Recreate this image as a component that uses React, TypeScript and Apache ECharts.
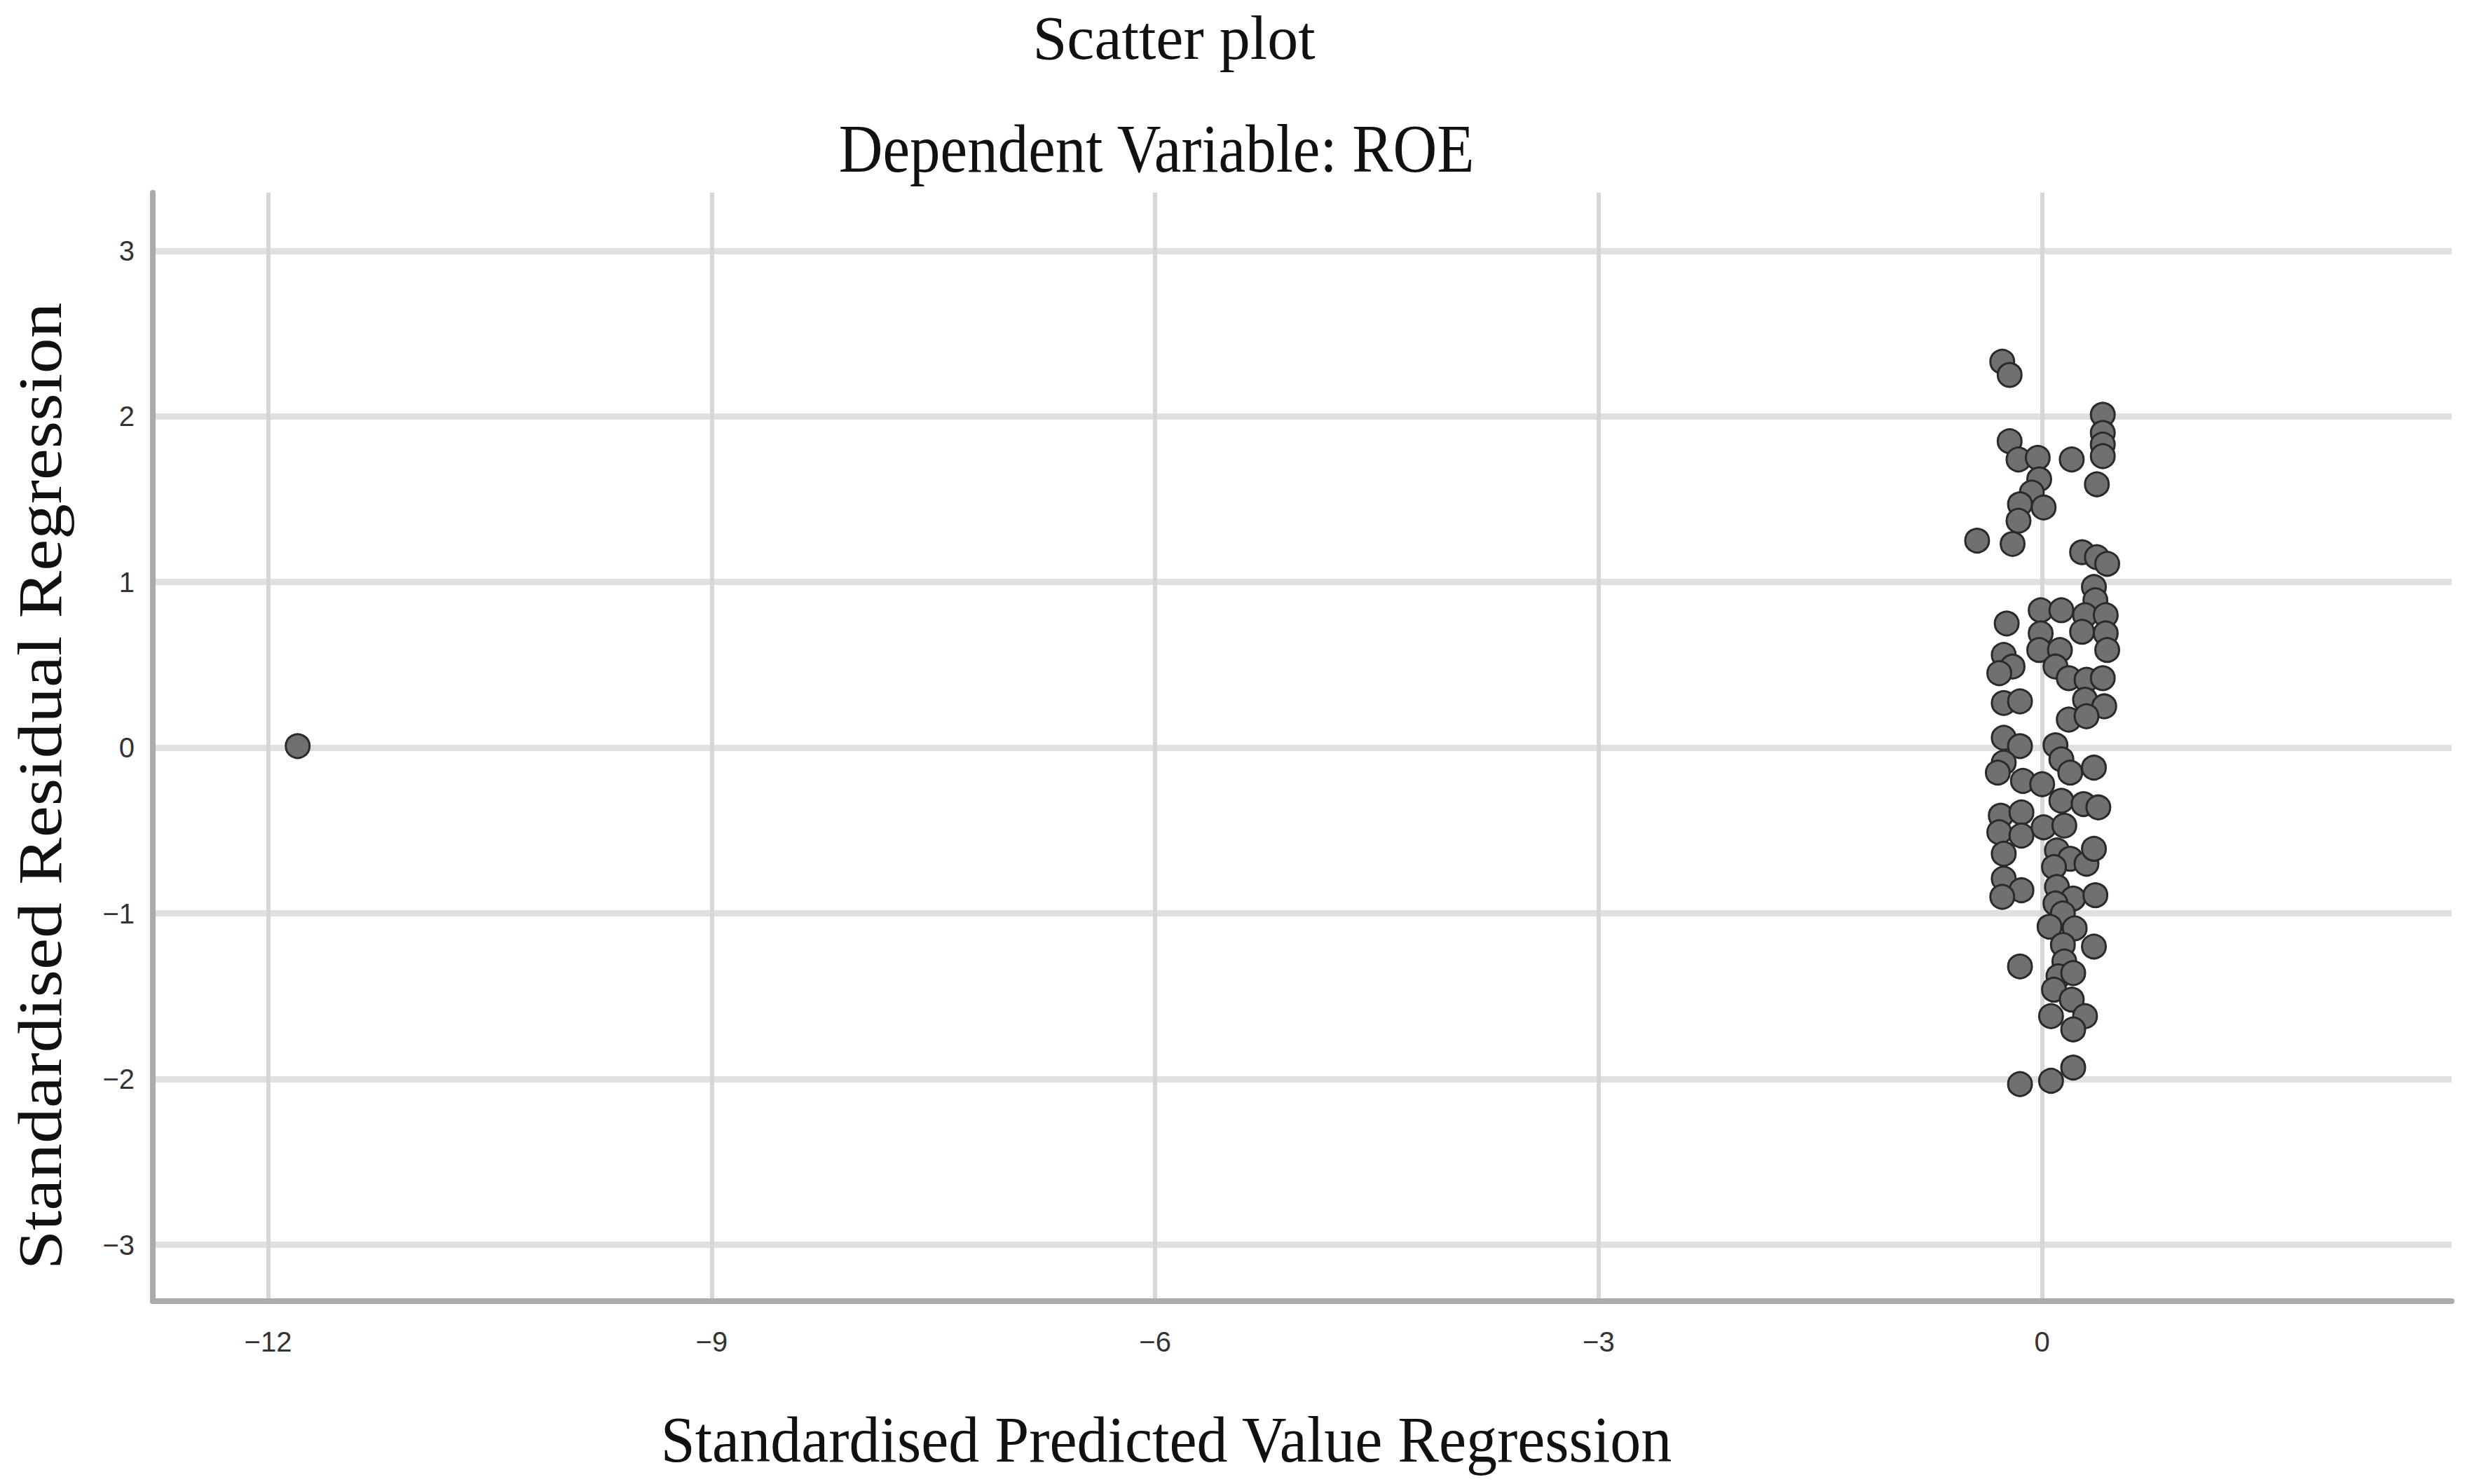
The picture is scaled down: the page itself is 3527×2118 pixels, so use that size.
import React, { useEffect, useRef } from "react";
import * as echarts from "echarts";

// Standardised predicted values (x) and standardised residuals (y)
const predicted: number[] = [
  -0.27, -0.22, 0.41, 0.41, 0.41, 0.41, -0.22, -0.16, -0.03, -0.02, 0.2, 0.37, -0.07, -0.15, 0.01, -0.16,
  -0.44, -0.2, 0.27, 0.37, 0.44, 0.35, 0.36, -0.24, -0.01, 0.13, 0.29, 0.43, -0.01, 0.27, 0.43, 0.44, -0.02, 0.12,
  -0.26, -0.2, -0.29, 0.09, 0.18, 0.3, 0.41, 0.29, 0.42, -0.26, -0.15, 0.18, 0.3,
  -0.26, -0.15, -0.26, -0.3, -0.13, 0.0, 0.09, 0.13, 0.19, 0.35, 0.13, 0.28, 0.38, -0.28, -0.14, -0.29, -0.14,
  0.01, 0.15, -0.26, 0.1, 0.19, 0.3, 0.35, 0.08, -0.26, -0.14, -0.27, 0.1, 0.21, 0.36, 0.09,
  0.14, 0.05, 0.22, 0.35, 0.14, 0.15, -0.15, 0.11, 0.21, 0.08, 0.2, 0.06, 0.29, 0.21, 0.21, 0.06, -0.15,
  -11.8,
];
const residual: number[] = [
  2.33, 2.25, 2.01, 1.9, 1.83, 1.76, 1.85, 1.74, 1.75, 1.62, 1.74, 1.59, 1.54, 1.47, 1.45, 1.37,
  1.25, 1.23, 1.18, 1.15, 1.11, 0.97, 0.89, 0.75, 0.83, 0.83, 0.8, 0.8, 0.69, 0.7, 0.69, 0.59, 0.59, 0.59,
  0.56, 0.49, 0.45, 0.49, 0.42, 0.41, 0.42, 0.29, 0.25, 0.27, 0.28, 0.17, 0.19,
  0.06, 0.01, -0.09, -0.15, -0.2, -0.22, 0.015, -0.07, -0.15, -0.12, -0.32, -0.34, -0.36, -0.41, -0.39, -0.51, -0.53,
  -0.48, -0.47, -0.64, -0.62, -0.67, -0.7, -0.61, -0.72, -0.79, -0.86, -0.9, -0.84, -0.91, -0.89, -0.94,
  -1.0, -1.08, -1.09, -1.2, -1.19, -1.29, -1.32, -1.38, -1.36, -1.46, -1.52, -1.62, -1.62, -1.7, -1.93, -2.01, -2.03,
  0.01,
];

const xTicks: number[] = [-12, -9, -6, -3, 0];
const yTicks: number[] = [-3, -2, -1, 0, 1, 2, 3];

const chartTitle = "Scatter plot";
const chartSubtitle = "Dependent Variable: ROE";
const xName = "Standardised Predicted Value Regression";
const yName = "Standardised Residual Regression";

const fmt = (v: number) => (v < 0 ? "\u2212" + Math.abs(v) : String(v));

export default function App() {
  const ref = useRef<HTMLDivElement>(null);

  useEffect(() => {
    if (!ref.current) return;
    const chart = echarts.init(ref.current, undefined, { renderer: "svg" });
    const points = predicted.map((x, i) => [x, residual[i]]);
    const serif = '"Liberation Serif", "Times New Roman", serif';
    chart.setOption({
      animation: false,
      backgroundColor: "#ffffff",
      grid: { left: 218, top: 275, width: 3280, height: 1582, containLabel: false },
      xAxis: {
        type: "value",
        min: -12.78,
        max: 2.77,
        axisLine: { show: true, onZero: false, lineStyle: { color: "#ababab", width: 8 } },
        axisTick: { show: false, customValues: xTicks },
        splitLine: { show: true, customValues: xTicks, lineStyle: { color: "#d6d6d6", width: 6 } },
        axisLabel: {
          customValues: xTicks,
          formatter: fmt,
          margin: 38,
          fontSize: 40,
          fontFamily: '"Liberation Sans", Arial, sans-serif',
          color: "#333333",
        },
      },
      yAxis: {
        type: "value",
        min: -3.34,
        max: 3.35,
        axisLine: { show: true, onZero: false, lineStyle: { color: "#ababab", width: 8 } },
        axisTick: { show: false, customValues: yTicks },
        splitLine: { show: true, customValues: yTicks, lineStyle: { color: "#e0e0e0", width: 9 } },
        axisLabel: {
          customValues: yTicks,
          formatter: fmt,
          margin: 26,
          fontSize: 40,
          fontFamily: '"Liberation Sans", Arial, sans-serif',
          color: "#333333",
        },
      },
      graphic: [
        {
          type: "text",
          x: 1675,
          y: 54,
          style: { text: chartTitle, font: `88px ${serif}`, fill: "#111111", textAlign: "center", textVerticalAlign: "middle" },
        },
        {
          type: "text",
          x: 1650,
          y: 212,
          scaleY: 1.12,
          style: { text: chartSubtitle, font: `87px ${serif}`, fill: "#111111", textAlign: "center", textVerticalAlign: "middle" },
        },
        {
          type: "text",
          x: 1664,
          y: 2055,
          scaleY: 1.05,
          style: { text: xName, font: `88px ${serif}`, fill: "#111111", textAlign: "center", textVerticalAlign: "middle" },
        },
        {
          type: "text",
          x: 57,
          y: 1122,
          rotation: Math.PI / 2,
          scaleX: 1.14,
          style: { text: yName, font: `89px ${serif}`, fill: "#111111", textAlign: "center", textVerticalAlign: "middle" },
        },
      ],
      series: [
        {
          type: "scatter",
          data: points,
          symbol: "circle",
          symbolSize: 34,
          itemStyle: { color: "#707070", borderColor: "#2a2a2a", borderWidth: 3, opacity: 1 },
        },
      ],
    });
    return () => chart.dispose();
  }, []);

  return (
    <div
      ref={ref}
      style={{ position: "absolute", left: 0, top: 0, width: "3527px", height: "2118px", background: "#fff" }}
    />
  );
}
